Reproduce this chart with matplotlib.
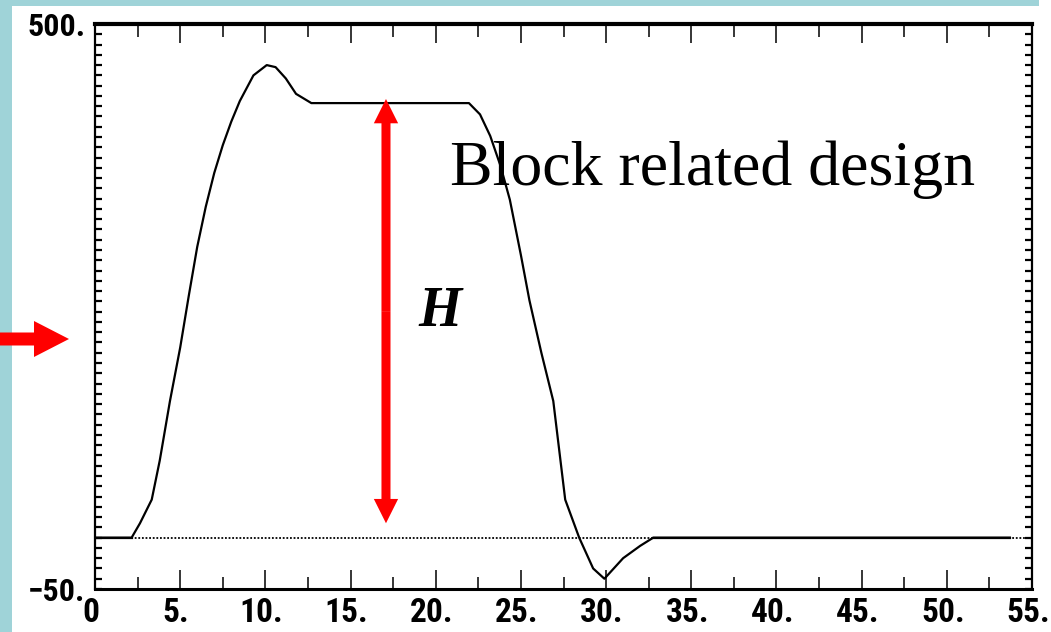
import numpy as np
import matplotlib
matplotlib.use("Agg")
import matplotlib.pyplot as plt
from matplotlib.patches import Rectangle, FancyArrow
from matplotlib.transforms import ScaledTranslation
from matplotlib import font_manager

# Block response curve (time vs. level)
t_values = [0, 2.15, 2.64, 3.33, 3.8, 4.4, 5.0, 5.5, 6.0, 6.5, 7.0, 7.5, 8.0,
            8.5, 9.3, 10.08, 10.6, 11.2, 11.8, 12.7, 21.95, 22.6, 23.2, 23.8,
            24.35, 25.0, 25.5, 26.2, 26.9, 27.25, 27.6, 28.42, 29.24, 29.9,
            31.0, 32.0, 32.77, 53.7]
level_values = [0, 0, 14, 37, 75, 133, 185, 235, 283, 322, 355, 382, 405,
                425, 450, 460, 458, 447, 432, 423, 423, 412, 391, 362,
                329, 275, 231, 180, 133, 85, 37, 0, -30, -40,
                -20, -8, 0, 0]

# Span of the dotted zero line and of the height arrow
zero_start, zero_end = 2.15, 32.77
arrow_x = 17.08
arrow_top, arrow_bottom = 427, 14

x_ticks = np.arange(0, 56, 5)
x_labels = ["0"] + [f"{v}." for v in x_ticks[1:]]
y_ticks = [-50, 500]
y_labels = ["\u221250.", "500."]

teal = "#9fd3d8"

# narrow face for the tick numbers, if one is installed
names = {f.name for f in font_manager.fontManager.ttflist}
narrow = [n for n in ("Liberation Sans Narrow", "DejaVu Sans Condensed",
                      "Roboto Condensed", "Open Sans Condensed") if n in names]
if narrow:
    tick_family, x_size, y_size = narrow[0], 24, 23
else:
    tick_family, x_size, y_size = "DejaVu Sans", 16, 15

fig = plt.figure(figsize=(10.51, 6.32), dpi=100, facecolor="white")
fig.add_artist(Rectangle((0, 0), 12 / 1051, 1, transform=fig.transFigure,
                         color=teal, lw=0, zorder=0))
fig.add_artist(Rectangle((0, 1 - 6 / 632), 1039 / 1051, 6 / 632,
                         transform=fig.transFigure, color=teal, lw=0, zorder=0))

ax = fig.add_axes([95 / 1051, 1 - 589 / 632, (1032 - 95) / 1051, (589 - 24) / 632])
ax.set_xlim(0, 55)
ax.set_ylim(-50, 500)

ax.plot([0, 55], [0, 0], color="black", lw=1.3, ls=(0, (1, 1)))
ax.plot(t_values, level_values, color="black", lw=1.6)
ax.plot([0, zero_start], [0, 0], color="black", lw=1.6)
ax.plot([zero_end, 53.7], [0, 0], color="black", lw=1.6)

# Axes frame and ticks
for side, lw in {"top": 3.0, "bottom": 2.2, "left": 1.6, "right": 1.6}.items():
    ax.spines[side].set_linewidth(lw)

ax.set_xticks(x_ticks)
ax.set_xticklabels(x_labels)
ax.set_xticks(np.arange(2.5, 55, 5), minor=True)
ax.set_yticks(y_ticks)
ax.set_yticklabels(y_labels)
ax.set_yticks(np.arange(-50, 501, 10), minor=True)

ax.tick_params(axis="x", which="major", direction="in", length=14, width=1.1,
               top=True, pad=6)
ax.tick_params(axis="x", which="minor", direction="in", length=9, width=1.1, top=True)
ax.tick_params(axis="y", which="both", direction="in", length=5, width=1.6,
               right=True, pad=7)

# digits sit a little left of their tick
nudge = ScaledTranslation(-4 / 100, 0, fig.dpi_scale_trans)
for lab in ax.get_xticklabels():
    lab.set_family(tick_family)
    lab.set_fontweight("bold")
    lab.set_fontsize(x_size)
    lab.set_stretch("condensed")
    lab.set_transform(lab.get_transform() + nudge)
for lab in ax.get_yticklabels():
    lab.set_family(tick_family)
    lab.set_fontweight("bold")
    lab.set_fontsize(y_size)
    lab.set_stretch("condensed")

# Height arrow between plateau and baseline
mid = (arrow_top + arrow_bottom) / 2
style = "simple,head_length=1.75,head_width=1.75,tail_width=0.65"
for end in (arrow_top, arrow_bottom):
    ax.annotate("", xy=(arrow_x, end), xytext=(arrow_x, mid),
                arrowprops=dict(arrowstyle=style, color="red", lw=0,
                                shrinkA=0, shrinkB=0, mutation_scale=10))

ax.text(20.83, 343, "Block related design", family="Liberation Serif",
        fontsize=46, va="baseline", ha="left")
ax.text(20.25, 220, "H", family="Liberation Serif", fontsize=40,
        fontweight="bold", style="italic", ha="center", va="center")

# Pointer arrow at the left edge
fig.add_artist(FancyArrow(0, 2.93, 0.69, 0, width=0.13, head_width=0.36,
                          head_length=0.35, length_includes_head=True,
                          color="red", lw=0, transform=fig.dpi_scale_trans,
                          zorder=5))

fig.savefig("out.png", dpi=100, facecolor="white")
